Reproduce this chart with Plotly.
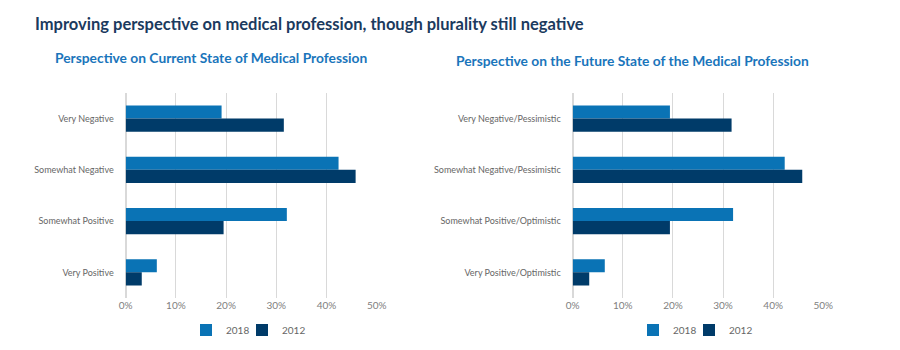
import plotly.graph_objects as go

categories_current = ["Very Negative", "Somewhat Negative", "Somewhat Positive", "Very Positive"]
categories_future = ["Very Negative/Pessimistic", "Somewhat Negative/Pessimistic",
                     "Somewhat Positive/Optimistic", "Very Positive/Optimistic"]
current_2018 = [0.191, 0.424, 0.321, 0.062]
current_2012 = [0.315, 0.458, 0.195, 0.032]
future_2018 = [0.194, 0.423, 0.320, 0.064]
future_2012 = [0.317, 0.458, 0.194, 0.033]
x_ticks = [0, 0.1, 0.2, 0.3, 0.4, 0.5]
x_tick_labels = ["0%", "10%", "20%", "30%", "40%", "50%"]

C2018 = "#0a73b5"
C2012 = "#003b69"
FONT = "Lato, Source Sans Pro, sans-serif"

fig = go.Figure()
fig.add_trace(go.Bar(y=categories_current, x=current_2018, name="2018", orientation="h",
                     marker=dict(color=C2018, line=dict(width=0)), xaxis="x", yaxis="y", legend="legend"))
fig.add_trace(go.Bar(y=categories_current, x=current_2012, name="2012", orientation="h",
                     marker=dict(color=C2012, line=dict(width=0)), xaxis="x", yaxis="y", legend="legend2"))
fig.add_trace(go.Bar(y=categories_future, x=future_2018, name="2018", orientation="h",
                     marker=dict(color=C2018, line=dict(width=0)), xaxis="x2", yaxis="y2", legend="legend3"))
fig.add_trace(go.Bar(y=categories_future, x=future_2012, name="2012", orientation="h",
                     marker=dict(color=C2012, line=dict(width=0)), xaxis="x2", yaxis="y2", legend="legend4"))

xax = dict(range=[0, 0.5], tickvals=x_ticks, ticktext=x_tick_labels, showgrid=True,
           gridcolor="#d9d9d9", gridwidth=1, zeroline=True, zerolinecolor="#d9d9d9",
           showline=False, tickfont=dict(size=10, color="#808080", family=FONT), ticks="",
           fixedrange=True, automargin=False)
yax = dict(autorange="reversed", showgrid=False, showline=False, ticks="", automargin=False,
           tickfont=dict(size=9, color="#666666", family=FONT), ticklabelstandoff=11)

ydom = [1 - 298 / 350, 1 - 93 / 350]
legfont = dict(size=10, color="#666666", family=FONT)


def leg(px):
    return dict(orientation="h", x=px / 900, y=1 - 330 / 350, xanchor="left", yanchor="middle",
                font=legfont, itemwidth=30, bgcolor="rgba(0,0,0,0)", visible=True)


fig.update_layout(
    width=900, height=350,
    margin=dict(l=0, r=0, t=0, b=0, autoexpand=False),
    paper_bgcolor="white", plot_bgcolor="white",
    showlegend=True,
    barmode="group", bargap=0.49, bargroupgap=0,
    font=dict(family=FONT),
    xaxis=dict(xax, domain=[125.7 / 900, 376.7 / 900], anchor="y"),
    yaxis=dict(yax, domain=ydom, anchor="x"),
    xaxis2=dict(xax, domain=[572.7 / 900, 823.3 / 900], anchor="y2"),
    yaxis2=dict(yax, domain=ydom, anchor="x2"),
    legend=leg(186), legend2=leg(242), legend3=leg(633), legend4=leg(689),
    annotations=[
        dict(text="<b>Improving perspective on medical profession, though plurality still negative</b>",
             x=33 / 900, y=1 - 24 / 350, xref="paper", yref="paper", xanchor="left", yanchor="middle",
             showarrow=False, font=dict(size=16.5, color="#1b3a5e", family=FONT)),
        dict(text="<b>Perspective on Current State of Medical Profession</b>",
             x=53 / 900, y=1 - 58 / 350, xref="paper", yref="paper", xanchor="left", yanchor="middle",
             showarrow=False, font=dict(size=13.8, color="#1a75bb", family=FONT)),
        dict(text="<b>Perspective on the Future State of the Medical Profession</b>",
             x=454 / 900, y=1 - 60 / 350, xref="paper", yref="paper", xanchor="left", yanchor="middle",
             showarrow=False, font=dict(size=13.8, color="#1a75bb", family=FONT)),
    ],
)

fig.write_html("out.html")
